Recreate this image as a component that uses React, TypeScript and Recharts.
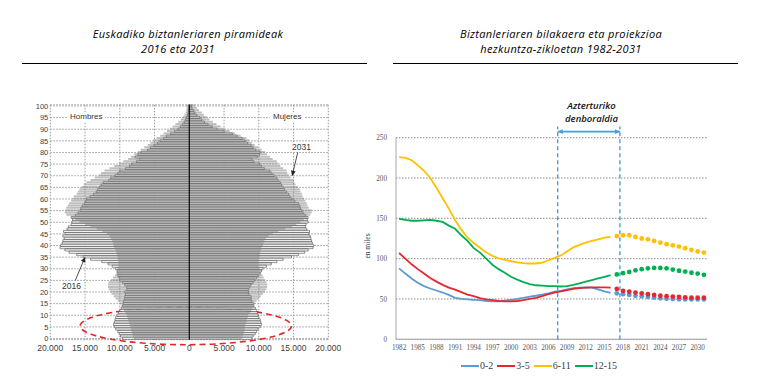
import React from "react";
import {
  BarChart,
  Bar,
  LineChart,
  Line,
  XAxis,
  YAxis,
  CartesianGrid,
  ReferenceLine,
  ReferenceArea,
} from "recharts";

// ---- pyramid (thousands of people, index = age 0..100) ----
const AGES = Array.from({ length: 101 }, (_, i) => i);
const AGE_TICKS = [100, 95, 90, 85, 80, 75, 70, 65, 60, 55, 50, 45, 40, 35, 30, 25, 20, 15, 10, 5, 0];
const POP_TICKS = [-20, -15, -10, -5, 0, 5, 10, 15, 20];

const MEN_2016 = [
  9.6, 9.9, 10.1, 10.3, 10.6, 10.8, 10.9, 10.8, 10.7, 10.6,
  10.4, 10.2, 10.0, 9.8, 9.6, 9.5, 9.5, 9.3, 9.3, 9.2,
  9.3, 9.0, 9.0, 9.3, 9.6, 10.0, 10.1, 10.3, 10.3, 10.4,
  10.6, 11.1, 11.7, 12.6, 14.2, 15.3, 16.2, 17.3, 17.9, 18.6,
  18.5, 18.3, 18.2, 18.0, 18.2, 17.9, 18.1, 17.6, 17.4, 17.0,
  16.9, 16.8, 17.0, 16.4, 16.0, 15.7, 15.6, 15.4, 15.1, 14.9,
  14.8, 14.3, 13.8, 13.4, 13.2, 12.9, 12.7, 12.4, 11.6, 11.3,
  10.7, 10.3, 10.0, 9.2, 8.6, 8.3, 7.6, 7.2, 7.8, 7.4,
  6.9, 6.0, 5.6, 5.1, 4.6, 4.2, 3.7, 3.3, 2.7, 2.1,
  1.6, 1.3, 1.0, 0.75, 0.55, 0.4, 0.28, 0.2, 0.13, 0.08,
  0.05,
];

const WOMEN_2016 = [
  9.0, 9.2, 9.5, 9.7, 9.9, 10.2, 10.4, 10.3, 10.2, 10.0,
  9.9, 9.8, 9.7, 9.5, 9.3, 9.2, 9.0, 8.9, 8.9, 8.6,
  8.5, 8.5, 8.7, 8.9, 9.2, 9.4, 9.7, 9.9, 10.2, 10.4,
  10.6, 11.1, 11.8, 12.6, 13.5, 14.7, 15.7, 16.6, 17.1, 17.8,
  17.9, 17.7, 17.6, 17.5, 17.4, 17.2, 17.3, 16.9, 16.7, 16.8,
  17.1, 17.0, 17.1, 16.7, 16.4, 16.2, 16.0, 15.9, 15.7, 15.2,
  14.8, 14.5, 14.3, 14.0, 13.7, 13.5, 13.3, 13.1, 12.8, 12.6,
  12.2, 11.9, 11.6, 10.8, 10.4, 10.1, 9.3, 9.0, 9.8, 10.1,
  10.2, 9.6, 9.2, 8.9, 8.4, 8.0, 7.6, 6.9, 6.2, 5.0,
  4.0, 3.3, 2.7, 2.2, 1.8, 1.5, 1.1, 0.8, 0.6, 0.4,
  0.3,
];

const MEN_2031 = [
  8.0, 8.1, 8.2, 8.3, 8.4, 8.5, 8.6, 8.7, 8.8, 8.9,
  9.0, 9.2, 9.4, 9.6, 9.8, 10.0, 10.3, 10.6, 10.9, 11.2,
  11.4, 11.6, 11.7, 11.7, 11.6, 11.3, 11.0, 10.7, 10.5, 10.4,
  10.3, 10.2, 10.2, 10.2, 10.3, 10.3, 10.4, 10.5, 10.6, 10.8,
  10.9, 11.0, 11.1, 11.3, 11.5, 11.9, 12.5, 13.3, 14.2, 15.0,
  15.8, 16.4, 17.0, 17.7, 17.9, 17.8, 17.7, 17.5, 17.3, 17.0,
  16.8, 16.6, 16.2, 16.0, 15.8, 15.5, 15.2, 14.8, 14.2, 13.6,
  13.0, 12.7, 12.2, 11.5, 10.8, 10.1, 9.5, 8.8, 8.4, 7.9,
  7.4, 7.0, 6.5, 6.0, 5.6, 5.2, 4.7, 4.2, 3.7, 3.2,
  2.8, 2.4, 2.0, 1.6, 1.2, 0.9, 0.7, 0.55, 0.45, 0.4,
  0.4,
];

const WOMEN_2031 = [
  7.6, 7.7, 7.8, 7.9, 8.0, 8.0, 8.1, 8.2, 8.3, 8.4,
  8.5, 8.7, 8.9, 9.1, 9.3, 9.5, 9.7, 10.0, 10.3, 10.6,
  10.9, 11.1, 11.2, 11.2, 11.1, 10.9, 10.7, 10.5, 10.3, 10.2,
  10.1, 10.0, 10.0, 10.0, 10.0, 10.1, 10.1, 10.2, 10.3, 10.4,
  10.6, 10.7, 10.8, 11.0, 11.4, 12.0, 12.8, 13.8, 14.8, 15.4,
  16.0, 16.5, 17.0, 17.4, 17.6, 17.6, 17.2, 17.0, 16.9, 16.7,
  16.5, 16.3, 16.2, 16.0, 15.9, 15.6, 15.3, 15.1, 15.0, 14.6,
  14.3, 14.1, 14.0, 13.5, 13.1, 12.8, 12.6, 12.0, 11.6, 11.2,
  10.9, 10.4, 9.9, 9.4, 9.0, 8.6, 8.2, 7.4, 6.6, 5.8,
  5.1, 4.5, 3.9, 3.4, 2.9, 2.5, 2.1, 1.8, 1.4, 1.1,
  0.8,
];

// ---- school-age population (thousands) ----
const YEARS = Array.from({ length: 50 }, (_, i) => 1982 + i);
const YEAR_TICKS = [1982, 1985, 1988, 1991, 1994, 1997, 2000, 2003, 2006, 2009, 2012, 2015, 2018, 2021, 2024, 2027, 2030];
const LINE_TICKS = [0, 50, 100, 150, 200, 250];

// 1982-2016 observed
const AGE_0_2 = [88, 81.5, 75.5, 70, 66, 63, 60.5, 58, 55, 51.5, 50, 49.5, 49, 48.5, 47.5, 47, 47, 48, 49, 50, 51.5, 53, 54, 55.5, 57, 59, 60, 62, 63.5, 64, 64.5, 64, 62, 59.5, 57.5];
const AGE_3_5 = [107, 100, 93, 87, 81.5, 76, 71.5, 67.5, 64, 61.5, 58.5, 55.5, 53.5, 51, 49.5, 48.5, 47.5, 47, 47, 47.5, 48.5, 50, 51.5, 53.5, 56, 58, 59.5, 61, 62.5, 63.5, 64, 64.5, 64.5, 64.5, 64];
const AGE_6_11 = [226, 225, 222, 216, 209, 200, 188, 175, 162, 148, 136, 126, 119.5, 113.5, 107.5, 103.5, 100.5, 98.5, 97, 95.5, 94.5, 94, 94, 95, 98, 101, 104, 109, 114, 117, 120, 122, 124, 126, 127];
const AGE_12_15 = [149.5, 148, 147, 147, 147.5, 148, 147, 145.5, 141, 137, 129, 122, 113, 107.5, 100, 92.5, 87, 82.5, 77.5, 74, 71, 68.5, 67, 66.5, 66, 66, 65.5, 66, 67.5, 69.5, 71.5, 73.5, 75.5, 77.5, 79.5];

// 2017-2031 projection
const PROJ_0_2 = [57, 56, 55, 54, 53.3, 52.5, 51.6, 50.8, 50.4, 50, 49.6, 49.5, 49.5, 49.5, 49.5];
const PROJ_3_5 = [62.5, 60, 59, 58, 57, 56, 55, 54, 53.5, 53, 52.5, 52, 51.5, 51.5, 51.5];
const PROJ_6_11 = [128, 129, 129, 127, 125, 124, 122, 120, 118, 116.5, 115, 113, 111, 109, 107.5];
const PROJ_12_15 = [80.5, 82, 83.5, 85.5, 87, 88, 88.5, 88.5, 88, 86.5, 85, 84, 82.5, 81.5, 80];

const OBS = AGE_0_2.length;

const C_02 = "#5b9bd5";
const C_35 = "#e8262e";
const C_611 = "#ffc000";
const C_1215 = "#00b050";
const PERIOD = "#2f8fd0";

const pyramidRows = AGES.slice()
  .reverse()
  .map((age) => ({
    age,
    m16: -MEN_2016[age],
    f16: WOMEN_2016[age],
    m31: -MEN_2031[age],
    f31: WOMEN_2031[age],
  }));

const lineRows = YEARS.map((year, i) => ({
  year,
  a02: i < OBS ? AGE_0_2[i] : undefined,
  a35: i < OBS ? AGE_3_5[i] : undefined,
  a611: i < OBS ? AGE_6_11[i] : undefined,
  a1215: i < OBS ? AGE_12_15[i] : undefined,
  p02: i >= OBS ? PROJ_0_2[i - OBS] : undefined,
  p35: i >= OBS ? PROJ_3_5[i - OBS] : undefined,
  p611: i >= OBS ? PROJ_6_11[i - OBS] : undefined,
  p1215: i >= OBS ? PROJ_12_15[i - OBS] : undefined,
}));

const legendItems = [
  { name: "0-2", color: C_02 },
  { name: "3-5", color: C_35 },
  { name: "6-11", color: C_611 },
  { name: "12-15", color: C_1215 },
];

const fmtPop = (v: number) => (v === 0 ? "0" : `${Math.abs(v)}.000`);

function arrowShape(color: string, both: boolean, width: number) {
  return (p: any) => {
    const { x1, y1, x2, y2 } = p;
    const ang = Math.atan2(y2 - y1, x2 - x1);
    const L = 5;
    const W = 2.4;
    const head = (tx: number, ty: number, a: number) => {
      const bx = tx - L * Math.cos(a);
      const by = ty - L * Math.sin(a);
      const px = -Math.sin(a) * W;
      const py = Math.cos(a) * W;
      return `${tx},${ty} ${bx + px},${by + py} ${bx - px},${by - py}`;
    };
    return (
      <g>
        <line x1={x1} y1={y1} x2={x2} y2={y2} stroke={color} strokeWidth={width} />
        <polygon points={head(x2, y2, ang)} fill={color} />
        {both && <polygon points={head(x1, y1, ang + Math.PI)} fill={color} />}
      </g>
    );
  };
}

const ellipseShape = (p: any) => (
  <ellipse
    cx={p.x + p.width / 2}
    cy={p.y + p.height / 2 + 2.5}
    rx={p.width / 2}
    ry={p.height / 2 + 2.5}
    fill="none"
    stroke="#e3262c"
    strokeWidth={1.6}
    strokeDasharray="6 4"
  />
);

const abs = (style: React.CSSProperties): React.CSSProperties => ({ position: "absolute", whiteSpace: "nowrap", ...style });

const titleFont: React.CSSProperties = {
  fontFamily: "'Open Sans', sans-serif",
  fontStyle: "italic",
  fontSize: 11,
  letterSpacing: 0.35,
  lineHeight: "15px",
  color: "#000",
  textAlign: "center",
};

const noteFont: React.CSSProperties = {
  fontFamily: "'Liberation Sans', sans-serif",
  fontSize: 8,
  lineHeight: "10px",
  color: "#333",
};

export default function App() {
  return (
    <div style={{ position: "absolute", left: 0, top: 0, width: 760, height: 380, background: "#fff", overflow: "hidden" }}>
      {/* titles */}
      <div style={abs({ ...titleFont, left: 188, top: 25.5, transform: "translateX(-50%)" })}>
        Euskadiko biztanleriaren piramideak
        <br />
        <span style={{ display: "inline-block", marginRight: 20 }}>2016 eta 2031</span>
      </div>
      <div style={abs({ left: 22, top: 63, width: 345, height: 1, background: "#000" })} />
      <div style={abs({ ...titleFont, left: 561, top: 25.5, transform: "translateX(-50%)" })}>
        Biztanleriaren bilakaera eta proiekzioa
        <br />
        hezkuntza-zikloetan 1982-2031
      </div>
      <div style={abs({ left: 393, top: 63, width: 345, height: 1, background: "#000" })} />

      {/* population pyramid */}
      <div style={abs({ left: 0, top: 90 })}>
        <BarChart
          width={360}
          height={270}
          data={pyramidRows}
          layout="vertical"
          stackOffset="sign"
          barCategoryGap={0}
          barGap="-100%"
          margin={{ top: 14.8, right: 31.7, bottom: 6.3, left: 20 }}
        >
          <CartesianGrid stroke="#9a9a9a" strokeDasharray="1.5 1.5" />
          <XAxis
            type="number"
            domain={[-20, 20]}
            ticks={POP_TICKS}
            interval={0}
            tickFormatter={fmtPop}
            axisLine={false}
            tickLine={false}
            tickSize={0}
            tickMargin={5}
            height={14}
            tick={{ fontSize: 8.5, fill: "#404040", fontFamily: "'Liberation Sans', sans-serif" }}
          />
          <YAxis
            type="category"
            dataKey="age"
            ticks={AGE_TICKS}
            interval={0}
            width={30.3}
            axisLine={false}
            tickLine={false}
            tickSize={0}
            tick={{ fontSize: 7.5, fill: "#404040", fontFamily: "'Liberation Sans', sans-serif" }}
          />
          <Bar dataKey="m16" stackId="p16" fill="#fff" stroke="#111" strokeWidth={0.45} isAnimationActive={false} />
          <Bar dataKey="f16" stackId="p16" fill="#fff" stroke="#111" strokeWidth={0.45} isAnimationActive={false} />
          <Bar dataKey="m31" stackId="p31" fill="#808080" fillOpacity={0.5} isAnimationActive={false} />
          <Bar dataKey="f31" stackId="p31" fill="#808080" fillOpacity={0.5} isAnimationActive={false} />
          <ReferenceLine x={0} stroke="#000" strokeWidth={1} />
          <ReferenceArea x1={-15.7} x2={14.7} y1={13} y2={0} ifOverflow="visible" shape={ellipseShape} />
          <ReferenceLine
            segment={[{ x: 15.6, y: 80 }, { x: 14.8, y: 70 }]}
            ifOverflow="visible"
            shape={arrowShape("#222", false, 0.8)}
          />
          <ReferenceLine
            segment={[{ x: -16.4, y: 25 }, { x: -15.0, y: 35 }]}
            ifOverflow="visible"
            shape={arrowShape("#222", false, 0.8)}
          />
        </BarChart>
      </div>
      <div style={abs({ ...noteFont, left: 67, top: 112, padding: "0 3px", background: "#fff" })}>Hombres</div>
      <div style={abs({ ...noteFont, left: 270, top: 112, padding: "0 3px", background: "#fff" })}>Mujeres</div>
      <div style={abs({ ...noteFont, fontSize: 8.5, left: 291, top: 142, padding: "0 1px", background: "#fff" })}>2031</div>
      <div style={abs({ ...noteFont, fontSize: 8.5, left: 62, top: 281 })}>2016</div>

      {/* school-age lines */}
      <div style={abs({ left: 360, top: 90 })}>
        <LineChart width={400} height={290} data={lineRows} margin={{ top: 47.7, right: 53, bottom: 20.7, left: 0 }}>
          <CartesianGrid vertical={false} stroke="#8c8c8c" strokeDasharray="1.5 1.5" />
          <XAxis
            type="number"
            dataKey="year"
            domain={[1981.5, 2031.5]}
            ticks={YEAR_TICKS}
            interval={0}
            axisLine={{ stroke: "#a6a6a6" }}
            tickLine={false}
            tickSize={0}
            tickMargin={6}
            height={20}
            tick={{ fontSize: 7.2, fill: "#595959", fontFamily: "'Liberation Serif', serif" }}
          />
          <YAxis
            domain={[0, 250]}
            ticks={LINE_TICKS}
            interval={0}
            width={36}
            axisLine={{ stroke: "#a6a6a6" }}
            tickLine={false}
            tickSize={0}
            tickMargin={9}
            tick={{ fontSize: 7.2, fill: "#595959", fontFamily: "'Liberation Serif', serif" }}
          />
          <ReferenceLine segment={[{ x: 2007.5, y: 0 }, { x: 2007.5, y: 264 }]} ifOverflow="visible" stroke={PERIOD} strokeWidth={1.2} strokeDasharray="4 3" />
          <ReferenceLine segment={[{ x: 2017.5, y: 0 }, { x: 2017.5, y: 264 }]} ifOverflow="visible" stroke={PERIOD} strokeWidth={1.2} strokeDasharray="4 3" />
          <ReferenceLine
            segment={[{ x: 2007.5, y: 257.5 }, { x: 2017.5, y: 257.5 }]}
            ifOverflow="visible"
            shape={arrowShape("#41a0d8", true, 1.6)}
          />
          <Line dataKey="a02" stroke={C_02} strokeWidth={1.8} dot={false} isAnimationActive={false} />
          <Line dataKey="a35" stroke={C_35} strokeWidth={1.8} dot={false} isAnimationActive={false} />
          <Line dataKey="a611" stroke={C_611} strokeWidth={1.8} dot={false} isAnimationActive={false} />
          <Line dataKey="a1215" stroke={C_1215} strokeWidth={1.8} dot={false} isAnimationActive={false} />
          <Line dataKey="p02" stroke="none" dot={{ r: 2.4, fill: C_02, stroke: "none" }} isAnimationActive={false} />
          <Line dataKey="p35" stroke="none" dot={{ r: 2.4, fill: C_35, stroke: "none" }} isAnimationActive={false} />
          <Line dataKey="p611" stroke="none" dot={{ r: 2.4, fill: C_611, stroke: "none" }} isAnimationActive={false} />
          <Line dataKey="p1215" stroke="none" dot={{ r: 2.4, fill: C_1215, stroke: "none" }} isAnimationActive={false} />
        </LineChart>
      </div>
      <div
        style={abs({
          left: 366.7,
          top: 245.5,
          transform: "translate(-50%, -50%) rotate(-90deg)",
          fontFamily: "'Liberation Serif', serif",
          fontSize: 7.5,
          color: "#404040",
        })}
      >
        en miles
      </div>
      <div style={abs({ left: 591.5, top: 99, transform: "translateX(-50%)", fontFamily: "'Open Sans', sans-serif", fontStyle: "italic", fontWeight: 600, fontSize: 9.5, lineHeight: "13px", color: "#111", textAlign: "center" })}>
        Azterturiko
        <br />
        denboraldia
      </div>
      <div style={abs({ left: 461, top: 359, height: 13, display: "flex", alignItems: "center" })}>
        {legendItems.map((it) => (
          <div key={it.name} style={{ display: "flex", alignItems: "center", marginRight: 4 }}>
            <span style={{ display: "inline-block", width: 18, height: 2, background: it.color }} />
            <span style={{ marginLeft: 1, fontFamily: "'Liberation Serif', serif", fontSize: 10, color: "#404040" }}>{it.name}</span>
          </div>
        ))}
      </div>
    </div>
  );
}
